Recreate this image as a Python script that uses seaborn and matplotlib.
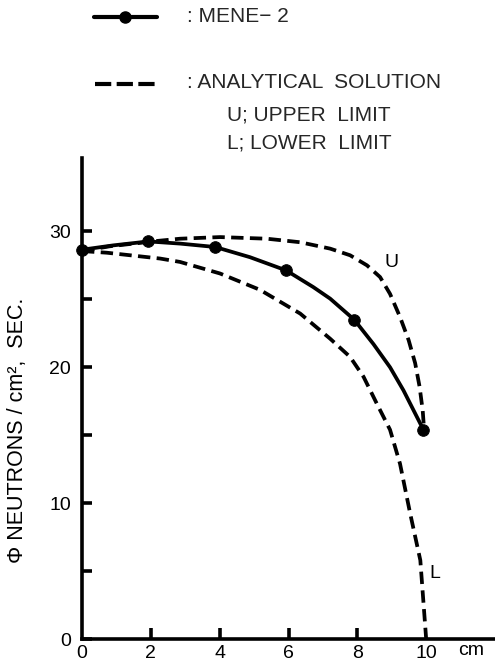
import matplotlib
matplotlib.use('Agg')
import matplotlib.pyplot as plt
import seaborn as sns
import pandas as pd
from matplotlib.lines import Line2D

# ---- data ----
mene_x = [0, 1.93, 3.87, 5.93, 7.91, 9.92]
mene_y = [28.65, 29.26, 28.85, 27.13, 23.5, 15.4]

mene_curve_x = [0, 0.91, 1.93, 2.85, 3.87, 4.88, 5.93, 6.72, 7.21, 7.91, 8.47,
                8.95, 9.34, 9.68, 9.92]
mene_curve_y = [28.65, 28.97, 29.26, 29.1, 28.85, 28.1, 27.13, 25.9, 25.05, 23.5,
                21.7, 20.0, 18.3, 16.6, 15.4]

upper_x = [0, 0.8, 2.2, 2.85, 4.01, 5.37, 6.34, 7.21, 7.79, 8.28, 8.66, 8.95, 9.24,
           9.49, 9.68, 9.81, 9.9, 9.94]
upper_y = [28.55, 28.9, 29.3, 29.46, 29.58, 29.46, 29.2, 28.73, 28.24, 27.5, 26.64,
           25.4, 23.7, 22.0, 20.3, 18.55, 16.8, 15.4]

lower_x = [0, 0.72, 2.27, 2.85, 4.01, 5.17, 6.34, 7.21, 7.79, 8.18, 8.57, 8.95,
           9.24, 9.53, 9.83, 10.0]
lower_y = [28.55, 28.43, 28.0, 27.75, 26.9, 25.7, 23.95, 22.1, 20.76, 19.3, 17.3,
           15.4, 12.9, 9.3, 5.8, 0.0]

x_ticks = [0, 2, 4, 6, 8, 10]
x_tick_labels = ['0', '2', '4', '6', '8', '10']
x_tick_marks = [2, 4, 6, 8]
y_ticks = [0, 10, 20, 30]
y_tick_labels = ['0', '10', '20', '30']
y_minor = [5, 15, 25]

sns.set_theme(style='white')
plt.rcParams['font.family'] = ['Liberation Sans', 'DejaVu Sans']

fig = plt.figure(figsize=(4.95, 6.61), dpi=100)
ax = fig.add_axes([82/495, 22/661, 413/495, 481/661])

lw = 2.7
dash = (3.3, 1.7)
df_u = pd.DataFrame({'x': upper_x, 'y': upper_y})
df_l = pd.DataFrame({'x': lower_x, 'y': lower_y})
df_m = pd.DataFrame({'x': mene_curve_x, 'y': mene_curve_y})
sns.lineplot(data=df_u, x='x', y='y', ax=ax, sort=False, estimator=None,
             color='black', lw=lw, linestyle=(0, dash), clip_on=False)
sns.lineplot(data=df_l, x='x', y='y', ax=ax, sort=False, estimator=None,
             color='black', lw=lw, linestyle=(0, dash), clip_on=False)
sns.lineplot(data=df_m, x='x', y='y', ax=ax, sort=False, estimator=None,
             color='black', lw=lw, clip_on=False)
sns.scatterplot(x=mene_x, y=mene_y, ax=ax, color='black', s=70, edgecolor='black',
                zorder=5, clip_on=False)

ax.set_xlim(0, 12)
ax.set_ylim(0, 35.4)
ax.set_xlabel('')
ax.set_ylabel('')

for s in ['top', 'right']:
    ax.spines[s].set_visible(False)
for s in ['left', 'bottom']:
    ax.spines[s].set_linewidth(2.6)
    ax.spines[s].set_color('black')

ax.xaxis.remove_overlapping_locs = False
ax.set_xticks(x_ticks)
ax.set_xticklabels(x_tick_labels, fontsize=14)
ax.set_xticks(x_tick_marks, minor=True)
ax.set_yticks(y_ticks)
ax.set_yticklabels(y_tick_labels, fontsize=14)
ax.set_yticks(y_minor, minor=True)
ax.tick_params(axis='both', which='both', direction='in', length=7, width=2.6,
               color='black', labelcolor='black')
ax.tick_params(axis='y', which='both', left=True, pad=8)
ax.tick_params(axis='x', which='major', bottom=True, length=0, pad=4)
ax.tick_params(axis='x', which='minor', bottom=True, length=8, labelbottom=False)
ax.grid(False)

ax.text(11.3, -0.2, 'cm', fontsize=14, ha='center', va='top', color='black')
ax.text(9.0, 27.7, 'U', fontsize=14, ha='center', va='center', color='black')
ax.text(10.26, 4.85, 'L', fontsize=14, ha='center', va='center', color='black')

# ---- legend and axis title drawn in figure pixels ----
def fx(px):
    return px / 495
def fy(py):
    return 1 - py / 661

fig.text(fx(18), fy(430), 'Φ NEUTRONS / cm²,  SEC.', fontsize=15.5, rotation=90,
         ha='center', va='center', color='black')

fig.add_artist(Line2D([fx(94), fx(157)], [fy(17), fy(17)], color='black', lw=3.0,
                      transform=fig.transFigure))
fig.add_artist(Line2D([fx(125)], [fy(17)], color='black', marker='o', markersize=8,
                      transform=fig.transFigure))
fig.add_artist(Line2D([fx(95), fx(156)], [fy(84), fy(84)], color='black', lw=3.0,
                      linestyle=(0, (3.9, 1.3)), transform=fig.transFigure))
fs = 15
fig.text(fx(187), fy(16), ': MENE\u2212 2', fontsize=fs, ha='left', va='center')
fig.text(fx(187), fy(83), ': ANALYTICAL  SOLUTION', fontsize=fs, ha='left', va='center')
fig.text(fx(227), fy(115), 'U; UPPER  LIMIT', fontsize=fs, ha='left', va='center')
fig.text(fx(227), fy(143), 'L; LOWER  LIMIT', fontsize=fs, ha='left', va='center')

fig.savefig('out.png', dpi=100, facecolor='white')
